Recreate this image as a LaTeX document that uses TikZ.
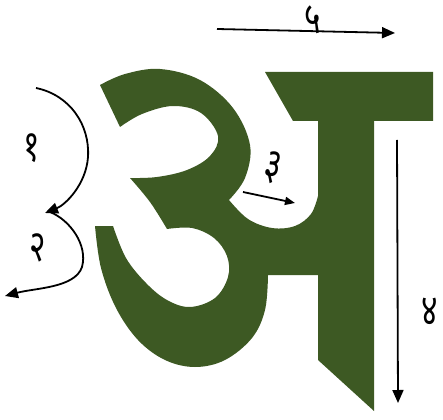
\documentclass[tikz,border=0pt]{standalone}
\usepackage{fontspec}
\newfontfamily\deva[Script=Devanagari]{Noto Sans}
\usetikzlibrary{arrows.meta}
\definecolor{leaf}{RGB}{61,89,35}
\newcommand{\dig}[1]{\scalebox{0.72}[1]{#1}}
\tikzset{
  arr/.style={line width=1.8pt,-{Triangle[length=13pt,width=11pt]}},
  smallarr/.style={line width=1.8pt,-{Triangle[length=10pt,width=8pt]}},
  lab/.style={font=\deva\fontsize{44}{46}\selectfont,inner sep=0pt}
}
\begin{document}
\begin{tikzpicture}[x=1pt,y=-1pt]
\useasboundingbox (0,0) rectangle (443,419);
% the letter
\fill[leaf] plot[smooth,tension=0.6] coordinates {(100,85) (125,74) (160,69) (200,80) (233,108) (250,145) (245,178) (229,200)}
  -- plot[smooth,tension=0.6] coordinates {(229,200) (248,219) (272,228) (295,226) (311,214) (318,196)}
  -- (318,121) -- (293,121) -- (265,72) -- (433,72) -- (433,121) -- (374,121)
  -- (374,411) -- (318,360) -- (318,275) -- (268,275)
  -- plot[smooth,tension=0.6] coordinates {(268,275) (265,310) (252,338) (225,360) (195,367) (165,360) (138,340) (116,308) (101,268) (95,226)}
  -- (113,226)
  -- plot[smooth,tension=0.6] coordinates {(113,226) (126,258) (146,283) (167,300) (190,307) (215,298) (228,277) (227,256) (214,238) (192,228) (167,229)}
  -- plot[smooth,tension=0.6] coordinates {(167,229) (150,202) (130,178)}
  -- plot[smooth,tension=0.6] coordinates {(130,178) (157,177) (187,170) (210,156) (218,136) (201,113) (173,106) (142,114) (120,127)}
  -- cycle;
% arrow endpoints
\coordinate (s1) at (36,88);
\coordinate (m1) at (88,157);
\coordinate (e1) at (45,213);
\coordinate (s2) at (50,212);
\coordinate (m2) at (82,267);
\coordinate (e2) at (5,296);
\coordinate (s3) at (243,192);
\coordinate (e3) at (295,203);
\coordinate (s4) at (397,140);
\coordinate (e4) at (398,403);
\coordinate (s5) at (217,29);
\coordinate (e5) at (395,33);
% arrows
\draw[arr] (s1) .. controls (70,95) and (90,125) .. (m1) .. controls (86,185) and (65,205) .. (e1);
\draw[arr] (s2) .. controls (70,220) and (88,245) .. (m2) .. controls (75,288) and (35,288) .. (e2);
\draw[smallarr] (s3) -- (e3);
\draw[arr] (s4) -- (e4);
\draw[arr] (s5) -- (e5);
% labels
\node[lab] (n1) at (32,148) {\dig{१}};
\node[lab] (n2) at (38,248) {\dig{२}};
\node[lab,rotate=-12] (n3) at (273,168) {\dig{३}};
\node[lab] (n4) at (430,312) {\dig{४}};
\node[lab] (n5) at (313,20) {\dig{५}};
\end{tikzpicture}
\end{document}
